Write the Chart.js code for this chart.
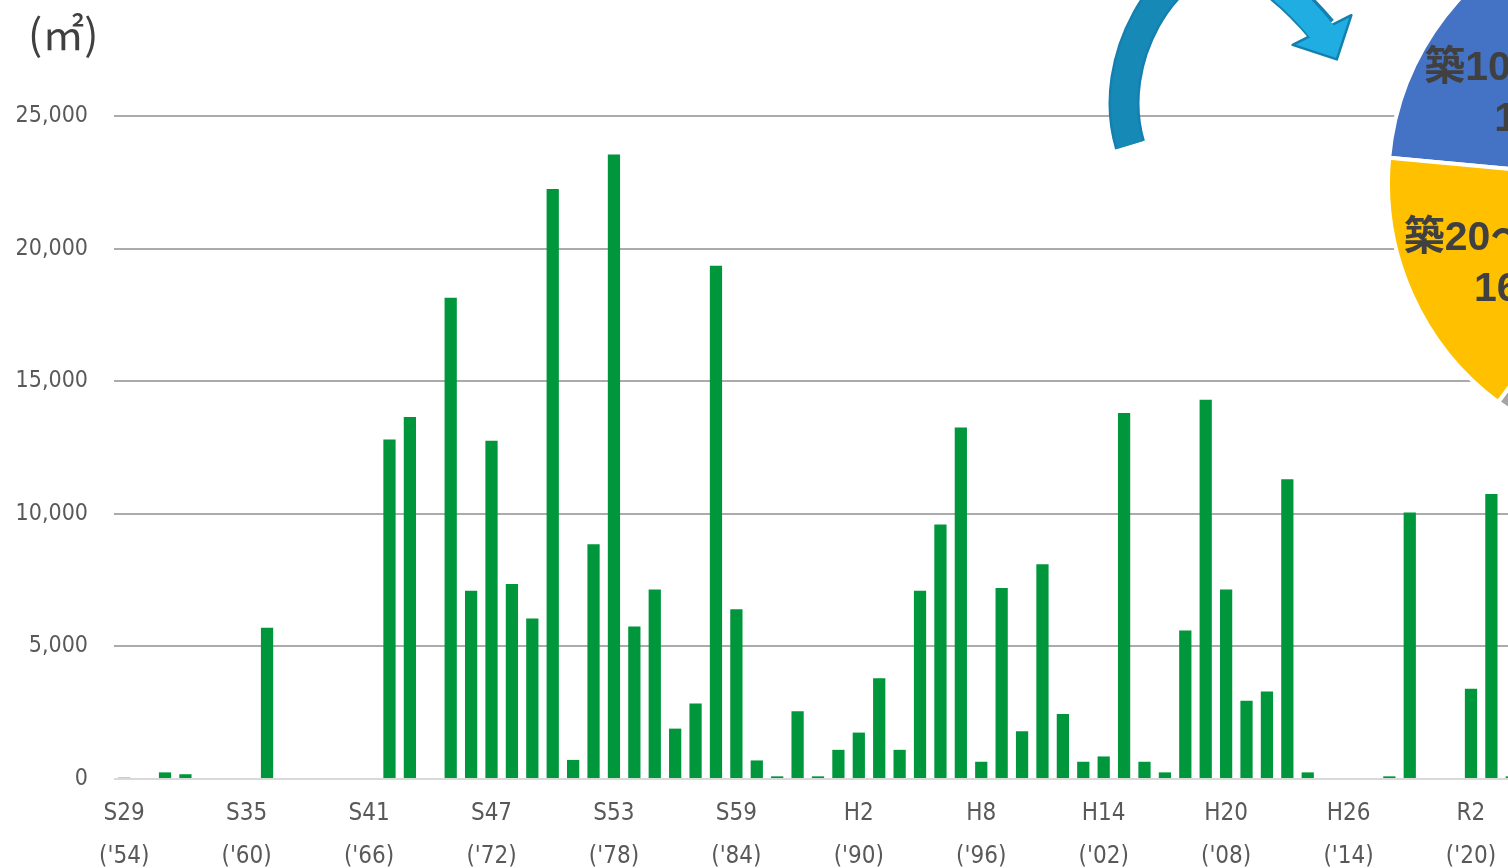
<!DOCTYPE html>
<html><head><meta charset="utf-8">
<script src="https://cdn.jsdelivr.net/npm/chart.js@4.4.0/dist/chart.umd.min.js"></script>
<style>
html,body{margin:0;padding:0;background:#fff;overflow:hidden;width:1508px;height:868px;}
#wrap{position:relative;width:1508px;height:868px;overflow:hidden;}
#bar{position:absolute;left:0;top:0;}
#pie{position:absolute;left:1386px;top:-92px;}
</style></head><body>
<div id="wrap">
<canvas id="bar" width="1532" height="868"></canvas>
<canvas id="pie" width="550" height="550"></canvas>
</div>
<script>
// categories: construction year (Japanese era), 1954 .. 2022
const categories = [
 'S29','S30','S31','S32','S33','S34','S35','S36','S37','S38','S39','S40','S41','S42','S43','S44','S45','S46','S47','S48',
 'S49','S50','S51','S52','S53','S54','S55','S56','S57','S58','S59','S60','S61','S62','S63',
 'H1','H2','H3','H4','H5','H6','H7','H8','H9','H10','H11','H12','H13','H14','H15','H16','H17','H18','H19','H20',
 'H21','H22','H23','H24','H25','H26','H27','H28','H29','H30','R1','R2','R3','R4'
];
// floor area built per year (m2)
const floorArea = [
 50,0,250,180,0,0,0,5700,0,0,0,0,0,12800,13650,0,18150,7100,12750,7350,
 6050,22250,720,8850,23550,5750,7150,1900,2850,19350,6400,700,100,2550,100,
 1100,1750,3800,1100,7100,9600,13250,650,7200,1800,8100,2450,650,850,13800,650,250,5600,14300,7150,
 2950,3300,11300,250,0,0,0,100,10050,0,0,3400,10750,100
];
// x tick labels
const tickEra  = ['S29','S35','S41','S47','S53','S59','H2','H8','H14','H20','H26','R2'];
const tickYear = ["('54)","('60)","('66)","('72)","('78)","('84)","('90)","('96)","('02)","('08)","('14)","('20)"];
// y ticks
const yMax = 25000, yStep = 5000;
// pie (share of floor area by building age)
const pieLabels = ['築10～19年','築10年未満','築30年以上','築20～29年'];
const pieShares = [18.0, 5.6, 60.1, 16.3];
const pieText   = ['18%','6%','60%','16%'];

const axisFont = '"DejaVu Sans Condensed","DejaVu Sans",sans-serif';

const unitPlugin = {
  id:'unit',
  afterDraw(chart){
    const c = chart.ctx; c.save();
    c.font = '42px "Noto Sans CJK JP"';
    c.fillStyle = '#404040'; c.textAlign = 'left'; c.textBaseline = 'middle';
    c.fillText('(㎡)', 28, 34);
    c.restore();
  }
};

const arrowPlugin = {
  id:'arrow',
  afterDraw(chart){
    const c = chart.ctx; c.save();
    const path = (ex, ey) => {
      c.beginPath();
      c.moveTo(1130,145);
      c.bezierCurveTo(1104,58, 1168,-40, 1222,-40);
      c.bezierCurveTo(1250,-40, 1290,-8, ex, ey);
    };
    const grad = c.createLinearGradient(1185,0,1245,0);
    grad.addColorStop(0,'#1689B7'); grad.addColorStop(1,'#1FADE2');
    c.lineCap = 'butt'; c.lineJoin = 'round';
    path(1322,30); c.lineWidth = 31; c.strokeStyle = '#1380AF'; c.stroke();
    const ex = 1322, ey = 30;
    const dx = 0.45, dy = 0.89, px = -dy, py = dx;
    c.beginPath();
    c.moveTo(ex+px*33, ey+py*33); c.lineTo(ex+dx*33, ey+dy*33); c.lineTo(ex-px*33, ey-py*33); c.closePath();
    c.fillStyle = '#1FADE2'; c.fill(); c.lineWidth = 2.5; c.strokeStyle = '#1380AF'; c.stroke();
    path(1324,34); c.lineWidth = 26; c.strokeStyle = grad; c.stroke();
    c.restore();
  }
};

new Chart(document.getElementById('bar'), {
  type:'bar',
  data:{labels:categories, datasets:[{data:floorArea, backgroundColor:'#00963C', barPercentage:0.6, categoryPercentage:1.0}]},
  options:{
    responsive:false, animation:false,
    layout:{padding:{top:116, right:10, left:0, bottom:0}},
    plugins:{legend:{display:false}, tooltip:{enabled:false}},
    scales:{
      x:{
        grid:{display:false}, border:{display:false},
        ticks:{autoSkip:false, maxRotation:0, minRotation:0, padding:5, color:'#595959',
          font:{family:axisFont, size:24, lineHeight:1.8},
          callback:(v,i)=>{const k = tickEra.indexOf(categories[i]); return k>=0 ? [tickEra[k], tickYear[k]] : '';}},
        afterFit:s=>{s.height = 89;}
      },
      y:{
        min:0, max:yMax,
        ticks:{stepSize:yStep, padding:26, color:'#595959', font:{family:axisFont, size:23},
          callback:v=>v.toLocaleString('en-US')},
        grid:{color:ctx=>(ctx.tick && ctx.tick.value===0) ? '#D9D9D9' : '#ABABAB', lineWidth:2, drawTicks:false},
        border:{display:false},
        afterFit:s=>{s.width = 114;}
      }
    }
  },
  plugins:[unitPlugin, arrowPlugin]
});

const pieLabelPlugin = {
  id:'pieLabels',
  afterDatasetsDraw(chart){
    const c = chart.ctx; c.save();
    const meta = chart.getDatasetMeta(0);
    c.font = 'bold 41px "Liberation Sans","Noto Sans CJK JP"';
    c.fillStyle = '#404040'; c.textAlign = 'center'; c.textBaseline = 'middle';
    meta.data.forEach((arc,i)=>{
      const p = arc.getProps(['x','y','startAngle','endAngle','outerRadius'], true);
      const mid = (p.startAngle+p.endAngle)/2;
      const r = p.outerRadius*0.61;
      const x = p.x + Math.cos(mid)*r, y = p.y + Math.sin(mid)*r;
      c.fillText(pieLabels[i], x+2, y-12);
      c.fillText(pieText[i], x+6, y+39);
    });
    c.restore();
  }
};

new Chart(document.getElementById('pie'), {
  type:'pie',
  data:{labels:pieLabels, datasets:[{data:pieShares, backgroundColor:['#4472C4','#ED7D31','#A5A5A5','#FFC000'], borderColor:'#ffffff', borderWidth:4}]},
  options:{responsive:false, animation:false, rotation:275.3, layout:{padding:0},
    plugins:{legend:{display:false}, tooltip:{enabled:false}}},
  plugins:[pieLabelPlugin]
});
</script>
</body></html>
